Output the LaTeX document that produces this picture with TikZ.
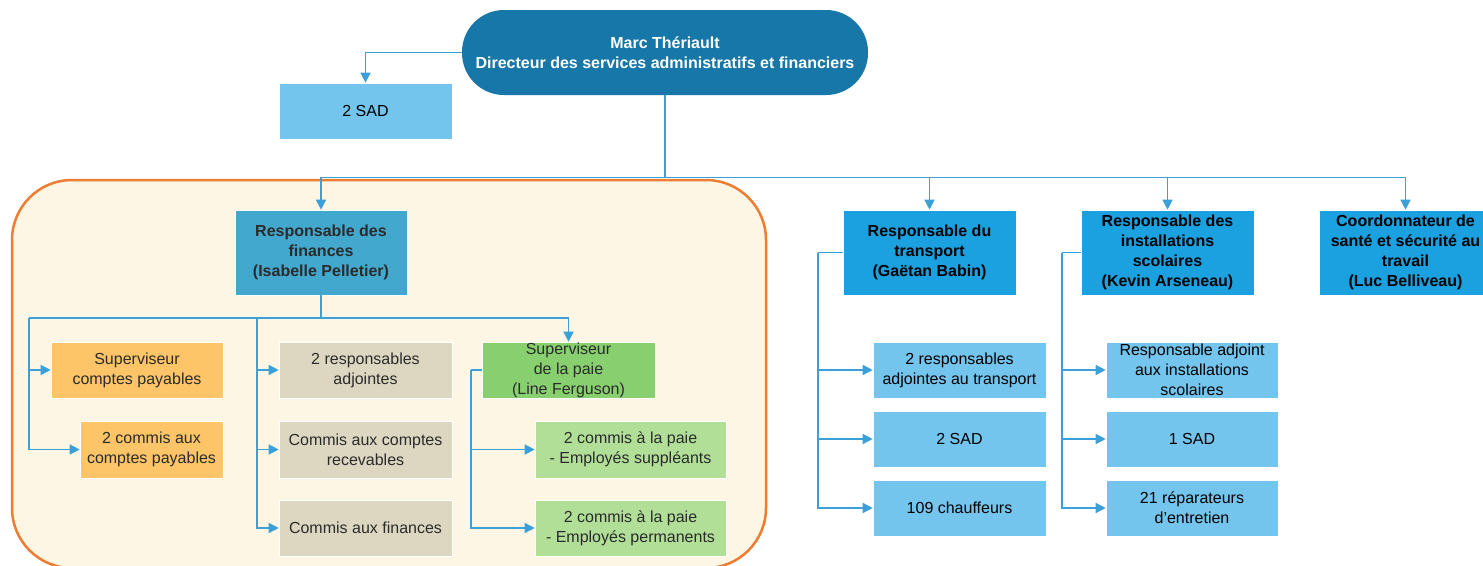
\documentclass[tikz,border=0pt]{standalone}
\usepackage{fontspec}
\setmainfont{Liberation Sans}
\usetikzlibrary{arrows.meta,calc}
\definecolor{topblue}{HTML}{1777A8}
\definecolor{lightblue}{HTML}{74C5EE}
\definecolor{midblue}{HTML}{1BA0E0}
\definecolor{finblue}{HTML}{42A8CE}
\definecolor{linecol}{HTML}{3BA0D8}
\definecolor{orangebox}{HTML}{FDC567}
\definecolor{graybox}{HTML}{DDD6C1}
\definecolor{greenbox}{HTML}{88D06F}
\definecolor{lgreenbox}{HTML}{B1DF98}
\definecolor{cream}{HTML}{FEF6E4}
\definecolor{orangeline}{HTML}{EE7D31}
\definecolor{darktext}{HTML}{2B2B2B}
\tikzset{
  box/.style={rectangle, inner sep=0pt, align=center, font=\fontsize{16}{20}\selectfont, draw=white, line width=0.6pt},
  boldbox/.style={box, font=\bfseries\fontsize{16}{20}\selectfont},
  link/.style={draw=linecol, line width=1.4pt},
  arr/.style={link, -{Triangle[length=10pt,width=10pt]}},
}
\begin{document}
\begin{tikzpicture}[x=1pt,y=-1pt]
\useasboundingbox[fill=white] (0,0) rectangle (1483,565);
% orange group
\draw[fill=cream, draw=orangeline, line width=2.5pt, rounded corners=60pt] (12,180) rectangle (766,568);

% nodes
\node[boldbox, fill=topblue, text=white, minimum width=406pt, minimum height=85pt, rounded corners=42pt, draw=none] (top) at (665,52.5) {Marc Thériault\\Directeur des services administratifs et financiers};
\node[box, fill=lightblue, minimum width=173pt, minimum height=56pt] (sad0) at (365.5,111) {2 SAD};

\node[boldbox, fill=finblue, text=darktext, minimum width=172pt, minimum height=85pt] (fin) at (321,252.5) {Responsable des\\finances\\(Isabelle Pelletier)};
\node[boldbox, fill=midblue, minimum width=173pt, minimum height=85pt] (tr) at (929.5,252.5) {Responsable du\\transport\\(Gaëtan Babin)};
\node[boldbox, fill=midblue, minimum width=173pt, minimum height=85pt] (inst) at (1167.5,252.5) {Responsable des\\installations\\scolaires\\(Kevin Arseneau)};
\node[boldbox, fill=midblue, minimum width=173pt, minimum height=85pt] (coord) at (1405.5,252.5) {Coordonnateur de\\santé et sécurité au\\travail\\(Luc Belliveau)};

% finance children
\node[box, fill=orangebox, text=darktext, minimum width=172pt, minimum height=56pt] (scp) at (137,370) {Superviseur\\comptes payables};
\node[box, fill=orangebox, text=darktext, minimum width=143pt, minimum height=57pt] (cap) at (151.5,449.5) {2 commis aux\\comptes payables};
\node[box, fill=graybox, text=darktext, minimum width=173pt, minimum height=56pt] (g1) at (365.5,370) {2 responsables\\adjointes};
\node[box, fill=graybox, text=darktext, minimum width=173pt, minimum height=57pt] (g2) at (365.5,449.5) {Commis aux comptes\\recevables};
\node[box, fill=graybox, text=darktext, minimum width=173pt, minimum height=56pt] (g3) at (365.5,528) {Commis aux finances};
\node[box, fill=greenbox, text=darktext, minimum width=173pt, minimum height=56pt] (sp) at (568.5,370) {Superviseur\\de la paie\\(Line Ferguson)};
\node[box, fill=lgreenbox, text=darktext, minimum width=191pt, minimum height=57pt] (p1) at (630.5,449.5) {2 commis à la paie\\- Employés suppléants};
\node[box, fill=lgreenbox, text=darktext, minimum width=191pt, minimum height=56pt] (p2) at (630.5,528) {2 commis à la paie\\- Employés permanents};

% transport children
\node[box, fill=lightblue, minimum width=173pt, minimum height=56pt] (t1) at (959.5,370) {2 responsables\\adjointes au transport};
\node[box, fill=lightblue, minimum width=173pt, minimum height=56pt] (t2) at (959.5,439) {2 SAD};
\node[box, fill=lightblue, minimum width=173pt, minimum height=56pt] (t3) at (959.5,508) {109 chauffeurs};

% installations children
\node[box, fill=lightblue, minimum width=172pt, minimum height=56pt] (i1) at (1192,370) {Responsable adjoint\\aux installations\\scolaires};
\node[box, fill=lightblue, minimum width=172pt, minimum height=56pt] (i2) at (1192,439) {1 SAD};
\node[box, fill=lightblue, minimum width=172pt, minimum height=56pt] (i3) at (1192,508) {21 réparateurs\\d’entretien};

% coordinates
\coordinate (bus) at (665,177.5);
\coordinate (finbus) at (321,318);
\coordinate (c1) at (29,318);
\coordinate (c2) at (257,318);
\coordinate (c3) at (471,370);
\coordinate (c4) at (818,252.5);
\coordinate (c5) at (1062,252.5);

% connectors
\draw[arr] (top.west) -| (sad0.north);
\draw[link] (top.south) -- (bus);
\draw[arr] (bus) -| (fin.north);
\draw[arr] (bus) -| (tr.north);
\draw[arr] (bus) -| (inst.north);
\draw[arr] (bus) -| (coord.north);

\draw[link] (fin.south) -- (finbus);
\draw[link] (finbus) -- (c1);
\draw[arr] (finbus) -| (sp.north);
\draw[arr] (c1) |- (scp.west);
\draw[arr] (c1) |- (cap.west);
\draw[arr] (c2) |- (g1.west);
\draw[arr] (c2) |- (g2.west);
\draw[arr] (c2) |- (g3.west);

\draw[link] (sp.west) -- (c3);
\draw[arr] (c3) |- (p1.west);
\draw[arr] (c3) |- (p2.west);

\draw[link] (tr.west) -- (c4);
\draw[arr] (c4) |- (t1.west);
\draw[arr] (c4) |- (t2.west);
\draw[arr] (c4) |- (t3.west);

\draw[link] (inst.west) -- (c5);
\draw[arr] (c5) |- (i1.west);
\draw[arr] (c5) |- (i2.west);
\draw[arr] (c5) |- (i3.west);
\end{tikzpicture}
\end{document}
